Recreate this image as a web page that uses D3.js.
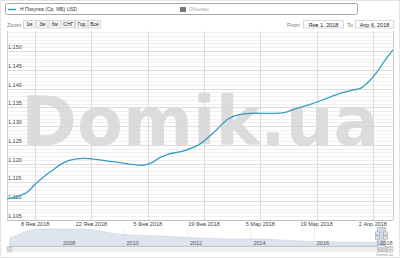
<!DOCTYPE html>
<html><head><meta charset="utf-8">
<script src="https://cdn.jsdelivr.net/npm/d3@7"></script>
<style>html,body{margin:0;padding:0;background:#fff;}svg{display:block;font-family:"Liberation Sans",Arial,sans-serif;}</style>
</head><body>
<script>
// ---- data ----
const dates = ["2018-01-01","2018-01-04","2018-01-06","2018-01-08","2018-01-10","2018-01-12","2018-01-15","2018-01-17","2018-01-20","2018-01-22","2018-01-26","2018-01-29","2018-02-01","2018-02-04","2018-02-06","2018-02-08","2018-02-10","2018-02-14","2018-02-16","2018-02-18","2018-02-22","2018-02-25","2018-02-28","2018-03-03","2018-03-07","2018-03-11","2018-03-14","2018-03-18","2018-03-22","2018-03-25","2018-03-28","2018-03-30","2018-04-01","2018-04-03","2018-04-05","2018-04-06T23:00"];
const values = [1.1106,1.1114,1.1124,1.1145,1.1164,1.1180,1.1202,1.1210,1.1214,1.1213,1.1207,1.1203,1.1198,1.1196,1.1203,1.1216,1.1225,1.1234,1.1242,1.1252,1.1289,1.1319,1.1331,1.1334,1.1334,1.1336,1.1347,1.1360,1.1376,1.1388,1.1396,1.1401,1.1419,1.1444,1.1475,1.1503];
const yTicks = [1.105,1.110,1.115,1.120,1.125,1.130,1.135,1.140,1.145,1.150];
const xTickDates = ["2018-01-08","2018-01-22","2018-02-05","2018-02-19","2018-03-05","2018-03-19","2018-04-02"];
const monthsRu = ["Янв","Фев","Мар","Апр","Май","Июн","Июл","Авг","Сен","Окт","Ноя","Дек"];
const navDates = ["2006-06-01","2006-09-27","2007-01-18","2007-05-15","2008-01-01","2008-08-18","2009-02-06","2009-07-30","2010-03-15","2011-02-24","2012-05-25","2013-05-12","2014-04-20","2014-12-10","2015-07-28","2016-07-08","2017-10-12","2018-04-06"];
const navValues = [8,12,16,17,17,17,16,13,11,10,8,7,7,6,5,4,3.5,4];
const navYears = [2008,2010,2012,2014,2016,2018];
const zoomButtons = ["1м","3м","6м","СНГ","Год","Всё"];
const seriesName = "Н Покупка (Ср. МБ) USD";
const volumeName = "Объемы";

// ---- chart ----
const W = 400, H = 258;
const svg = d3.select("body").append("svg").attr("width", W).attr("height", H);
const parse = s => new Date(s.length > 10 ? s : s + "T00:00");
const L = 7, R = 393, T = 31, B = 220;

svg.append("rect").attr("x",0.5).attr("y",0.5).attr("width",W-1).attr("height",H-1)
  .attr("fill","none").attr("stroke","#e4e4e4");

const x = d3.scaleTime().domain([parse("2018-01-01"), parse("2018-04-07")]).range([L, R]);
const y = d3.scaleLinear().domain([1.105, 1.150]).range([B, 51]);

const minor = d3.range(1105, 1156).map(v => v/1000);
svg.append("g").selectAll("line").data(minor).join("line")
  .attr("x1",L).attr("x2",R).attr("y1",d=>Math.round(y(d))+0.5).attr("y2",d=>Math.round(y(d))+0.5)
  .attr("stroke","#f0f0f0").attr("stroke-width",1);
svg.append("g").selectAll("line").data(yTicks).join("line")
  .attr("x1",L).attr("x2",R).attr("y1",d=>Math.round(y(d))+0.5).attr("y2",d=>Math.round(y(d))+0.5)
  .attr("stroke","#dcdcdc").attr("stroke-width",1);
const xt = xTickDates.map(parse);
svg.append("g").selectAll("line").data(xt).join("line")
  .attr("x1",d=>Math.round(x(d))+0.5).attr("x2",d=>Math.round(x(d))+0.5).attr("y1",T).attr("y2",B)
  .attr("stroke","#dcdcdc");
svg.append("line").attr("x1",L+0.5).attr("x2",L+0.5).attr("y1",T).attr("y2",B).attr("stroke","#d0d0d0");
svg.append("line").attr("x1",R+0.5).attr("x2",R+0.5).attr("y1",T).attr("y2",B).attr("stroke","#d0d0d0");
svg.append("line").attr("x1",L).attr("x2",R).attr("y1",B+0.5).attr("y2",B+0.5).attr("stroke","#c0c0c0");

svg.append("text").attr("x",200).attr("y",145).attr("text-anchor","middle")
  .attr("font-family","'DejaVu Sans',sans-serif").attr("font-weight","bold").attr("font-size",67)
  .attr("fill","#d6d6d6").attr("fill-opacity",0.85).text("Domik.ua");

const fmt = d => d3.format(".3f")(d).replace(".", ",");
svg.append("g").selectAll("text").data(yTicks).join("text")
  .attr("x",L+1).attr("y",d=>y(d)-2).attr("font-size",5.5).attr("fill","#444").text(fmt);

svg.append("g").selectAll("text").data(xt).join("text")
  .attr("x",d=>x(d)).attr("y",226).attr("text-anchor","middle").attr("font-size",5.5).attr("fill","#444")
  .text(d => d.getDate()+" "+monthsRu[d.getMonth()]+" "+d.getFullYear());

const pts = dates.map((d,i)=>({d:parse(d), v:values[i]}));
svg.append("path").datum(pts)
  .attr("d", d3.line().x(p=>x(p.d)).y(p=>y(p.v)).curve(d3.curveCatmullRom.alpha(0.5)))
  .attr("fill","none").attr("stroke","#3a9bc4").attr("stroke-width",1.3);

svg.append("rect").attr("x",5.5).attr("y",3.5).attr("width",352).attr("height",11).attr("rx",2)
  .attr("fill","#fff").attr("stroke","#a8a8a8");
svg.append("line").attr("x1",8).attr("x2",16).attr("y1",9.5).attr("y2",9.5).attr("stroke","#3a9bc4").attr("stroke-width",1.5);
svg.append("text").attr("x",20).attr("y",11).attr("font-size",5).attr("fill","#333").text(seriesName);
svg.append("rect").attr("x",180).attr("y",7).attr("width",6).attr("height",5).attr("fill","#777");
svg.append("text").attr("x",189).attr("y",11).attr("font-size",5).attr("fill","#aaa").text(volumeName);

svg.append("text").attr("x",7).attr("y",26.5).attr("font-size",5.5).attr("fill","#777").text("Zoom");
const bx = [23,36,48.5,61.5,75,88];
const bw = [11.5,11.5,11.5,12.5,12,12];
zoomButtons.forEach((b,i)=>{
  svg.append("rect").attr("x",bx[i]+0.5).attr("y",20.5).attr("width",bw[i]).attr("height",7.5)
    .attr("fill","#f7f7f7").attr("stroke","#c8c8c8").attr("stroke-width",0.7);
  svg.append("text").attr("x",bx[i]+0.5+bw[i]/2).attr("y",26.3).attr("text-anchor","middle")
    .attr("font-size",5).attr("fill","#222").text(b);
});
svg.append("text").attr("x",287).attr("y",26.5).attr("font-size",5.5).attr("fill","#777").text("From");
svg.append("rect").attr("x",303.5).attr("y",20.5).attr("width",40).attr("height",7.5).attr("fill","#fff").attr("stroke","#c8c8c8").attr("stroke-width",0.7);
svg.append("text").attr("x",323.5).attr("y",26.5).attr("text-anchor","middle").attr("font-size",5.5).attr("fill","#222")
  .text(monthsRu[0]+" 1, 2018");
svg.append("text").attr("x",347).attr("y",26.5).attr("font-size",5.5).attr("fill","#777").text("To");
svg.append("rect").attr("x",355.5).attr("y",20.5).attr("width",38).attr("height",7.5).attr("fill","#fff").attr("stroke","#c8c8c8").attr("stroke-width",0.7);
svg.append("text").attr("x",374.5).attr("y",26.5).attr("text-anchor","middle").attr("font-size",5.5).attr("fill","#222")
  .text(monthsRu[3]+" 6, 2018");

const NT = 227, NB = 246;
const nx = d3.scaleTime().domain([parse("2006-04-30"), parse("2018-07-01")]).range([L, R]);
const ny = d3.scaleLinear().domain([0,20]).range([NB, NT-1]);
const navPts = navDates.map((d,i)=>({d:parse(d), v:navValues[i]}));
svg.append("g").selectAll("line").data(navYears).join("line")
  .attr("x1",d=>Math.round(nx(new Date(d,0,1)))+0.5).attr("x2",d=>Math.round(nx(new Date(d,0,1)))+0.5)
  .attr("y1",NT).attr("y2",NB).attr("stroke","#eeeeee");
svg.append("path").datum(navPts)
  .attr("d", d3.area().x(p=>nx(p.d)).y0(NB).y1(p=>ny(p.v)).curve(d3.curveMonotoneX))
  .attr("fill","#dfe5ee").attr("stroke","#c8d2df").attr("stroke-width",0.6);
svg.append("g").selectAll("text").data(navYears).join("text")
  .attr("x",d=>nx(new Date(d,0,1))+3).attr("y",244.5).attr("font-size",5.5).attr("fill","#555").text(d=>d);
const s0 = nx(parse("2018-01-01")), s1 = nx(parse("2018-04-06"));
svg.append("rect").attr("x",s0).attr("y",NT).attr("width",s1-s0).attr("height",NB-NT).attr("fill","#6685c2").attr("fill-opacity",0.3);
svg.append("path").attr("d",`M${L},${NB+0.5}H${s0}V${NT+0.5}H${s1}V${NB+0.5}H${R}`).attr("fill","none").attr("stroke","#b2b1b6").attr("stroke-width",0.7);
[s0,s1].forEach(sx=>{
  svg.append("rect").attr("x",sx-2).attr("y",232).attr("width",4).attr("height",7)
    .attr("fill","#f2f2f2").attr("stroke","#999").attr("stroke-width",0.6);
  svg.append("line").attr("x1",sx-0.5).attr("x2",sx-0.5).attr("y1",234).attr("y2",237).attr("stroke","#444").attr("stroke-width",0.4);
  svg.append("line").attr("x1",sx+0.5).attr("x2",sx+0.5).attr("y1",234).attr("y2",237).attr("stroke","#444").attr("stroke-width",0.4);
});
svg.append("rect").attr("x",L).attr("y",247.5).attr("width",R-L).attr("height",4.5).attr("fill","#eeeeee").attr("stroke","#eeeeee").attr("stroke-width",0.5);
svg.append("rect").attr("x",L).attr("y",247.5).attr("width",5).attr("height",4.5).attr("fill","#e6e6e6").attr("stroke","#bbb").attr("stroke-width",0.5);
svg.append("path").attr("d",`M${L+3},248.8L${L+1.8},249.7L${L+3},250.6Z`).attr("fill","#666");
svg.append("rect").attr("x",s0).attr("y",247.5).attr("width",R-5-s0).attr("height",4.5).attr("fill","#ccc").attr("stroke","#bbb").attr("stroke-width",0.5);
svg.append("rect").attr("x",R-5).attr("y",247.5).attr("width",5).attr("height",4.5).attr("fill","#e6e6e6").attr("stroke","#bbb").attr("stroke-width",0.5);
svg.append("path").attr("d",`M${R-3},248.8L${R-1.8},249.7L${R-3},250.6Z`).attr("fill","#666");
svg.append("text").attr("x",R).attr("y",256).attr("text-anchor","end").attr("font-size",4).attr("fill","#999").text("Domik.ua");
</script>
</body></html>
